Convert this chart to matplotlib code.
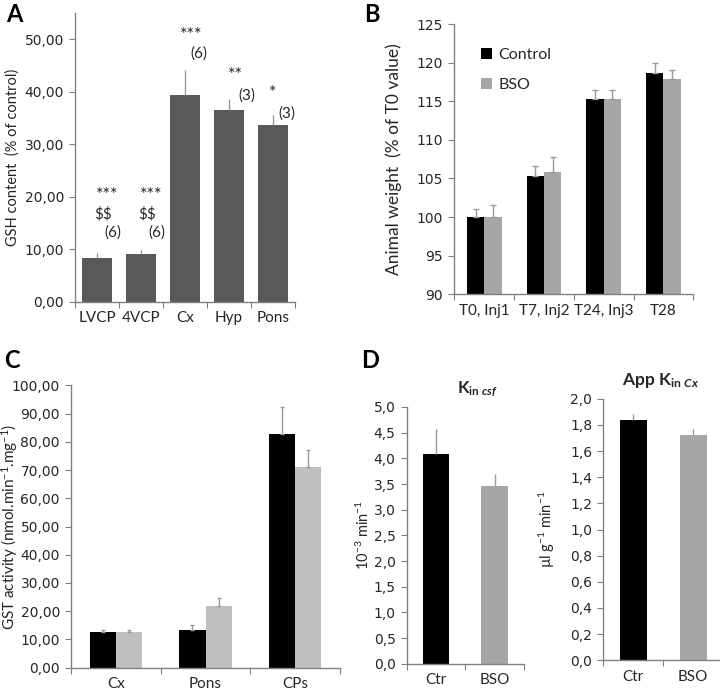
import matplotlib
matplotlib.use("Agg")
import matplotlib.pyplot as plt
import numpy as np

plt.rcParams['font.family'] = ['Lato', 'DejaVu Sans']
plt.rcParams['mathtext.fontset'] = 'custom'
plt.rcParams['mathtext.rm'] = 'Lato'
plt.rcParams['mathtext.it'] = 'Lato:italic'
plt.rcParams['mathtext.bf'] = 'Lato:bold'
plt.rcParams['mathtext.bfit'] = 'Lato:italic:bold'

# ---- Panel A data ----
a_cats = ["LVCP", "4VCP", "Cx", "Hyp", "Pons"]
a_vals = [8.4, 9.1, 39.4, 36.5, 33.7]
a_err = [0.8, 0.8, 4.7, 2.2, 1.9]
a_stars = ["***", "***", "***", "**", "*"]
a_dollars = ["$$", "$$", "", "", ""]
a_n = ["(6)", "(6)", "(6)", "(3)", "(3)"]
a_yticks = [0, 10, 20, 30, 40, 50]

# ---- Panel B data ----
b_cats = ["T0, Inj1", "T7, Inj2", "T24, Inj3", "T28"]
b_ctrl = [100.0, 105.3, 115.3, 118.6]
b_ctrl_err = [1.0, 1.3, 1.2, 1.3]
b_bso = [100.0, 105.8, 115.3, 117.9]
b_bso_err = [1.5, 2.0, 1.1, 1.1]
b_yticks = [90, 95, 100, 105, 110, 115, 120, 125]

# ---- Panel C data ----
c_cats = ["Cx", "Pons", "CPs"]
c_ctrl = [12.5, 13.5, 82.8]
c_ctrl_err = [1.0, 1.5, 9.6]
c_bso = [12.8, 21.7, 70.9]
c_bso_err = [0.6, 2.9, 6.3]
c_yticks = [0, 10, 20, 30, 40, 50, 60, 70, 80, 90, 100]

# ---- Panel D data ----
d_cats = ["Ctr", "BSO"]
d1_vals = [4.08, 3.47]
d1_err = [0.50, 0.22]
d1_yticks = [0, 0.5, 1.0, 1.5, 2.0, 2.5, 3.0, 3.5, 4.0, 4.5, 5.0]
d2_vals = [1.835, 1.725]
d2_err = [0.045, 0.045]
d2_yticks = [0, 0.2, 0.4, 0.6, 0.8, 1.0, 1.2, 1.4, 1.6, 1.8, 2.0]

BLACK = "#000000"
GRAY_B = "#a6a6a6"
GRAY_C = "#bfbfbf"
DARK = "#595959"
AXC = "#808080"
ERRC = "#9a9a9a"
TXT = "#262626"
FS = 10.5
NUM_FAMILY = "DejaVu Sans"
NUM_SIZE = 10


def comma_fmt(decimals):
    def f(v):
        return f"{v:.{decimals}f}".replace(".", ",")
    return f


def style_axis(ax, ncat, yticks, ylim, decimals):
    for s in ["top", "right"]:
        ax.spines[s].set_visible(False)
    for s in ["left", "bottom"]:
        ax.spines[s].set_color(AXC)
        ax.spines[s].set_linewidth(1.0)
    ax.set_xlim(-0.5, ncat - 0.5)
    ax.set_ylim(*ylim)
    ax.set_yticks(yticks)
    fmt = comma_fmt(decimals)
    ax.set_yticklabels([fmt(v) if decimals >= 0 else str(v) for v in yticks],
                       fontdict={"family": NUM_FAMILY, "size": NUM_SIZE})
    ax.tick_params(axis="y", direction="out", length=4, color=AXC,
                   labelcolor=TXT, pad=4)
    ax.set_xticks(np.arange(-0.5, ncat, 1.0))
    ax.set_xticklabels([])
    ax.tick_params(axis="x", which="major", direction="out", length=4,
                   color=AXC)


def cat_labels(ax, labels, fs=FS):
    ax.set_xticks(np.arange(len(labels)), minor=True)
    ax.set_xticklabels(labels, minor=True)
    ax.tick_params(axis="x", which="minor", length=0, labelsize=fs,
                   labelcolor=TXT, pad=7)


W, H = 720, 694
fig = plt.figure(figsize=(7.2, 6.94), dpi=100)


def axes_px(l, r, top, bot):
    return fig.add_axes([l / W, 1 - bot / H, (r - l) / W, (bot - top) / H])


# ---------- Panel A ----------
axA = axes_px(75, 295, 13, 301.7)
xa = np.arange(len(a_cats))
axA.bar(xa, a_vals, width=0.66, color=DARK, zorder=2)
axA.errorbar(xa, a_vals, yerr=[np.zeros(len(a_vals)), a_err], fmt="none",
             ecolor=ERRC, elinewidth=1.0, capsize=0, zorder=3)
style_axis(axA, len(a_cats), a_yticks, (0, 55), 2)
cat_labels(axA, a_cats, 11)
axA.set_ylabel("GSH content  (% of control)", fontsize=FS, color=TXT)
axA.yaxis.set_label_coords(-0.25, 0.5)
# annotations
star_pos = [(0.23, 20.3), (0.23, 20.3), (0.15, 50.8), (0.14, 43.1), (0.0, 39.8)]
dollar_pos = [(0.14, 16.6), (0.14, 16.6), None, None, None]
n_pos = [(0.37, 13.2), (0.37, 13.2), (0.32, 47.2), (0.41, 39.2), (0.32, 35.9)]
for i in range(len(a_cats)):
    dx, y = star_pos[i]
    axA.text(i + dx, y, a_stars[i], ha="center", va="center", fontsize=13,
             color=TXT)
    if a_dollars[i]:
        dx, y = dollar_pos[i]
        axA.text(i + dx, y, a_dollars[i].replace("$", r"\$"), ha="center",
                 va="center", fontsize=11, color=TXT)
    dx, y = n_pos[i]
    axA.text(i + dx, y, a_n[i], ha="center", va="center", fontsize=11,
             color=TXT)

# ---------- Panel B ----------
axB = axes_px(454.3, 693.3, 24, 294.3)
xb = np.arange(len(b_cats))
bw = 0.29
axB.bar(xb - bw / 2, np.array(b_ctrl) - 90, bottom=90, width=bw, color=BLACK,
        label="Control", zorder=2)
axB.bar(xb + bw / 2, np.array(b_bso) - 90, bottom=90, width=bw, color=GRAY_B,
        label="BSO", zorder=2)
axB.errorbar(xb - bw / 2, b_ctrl, yerr=[np.zeros(4), b_ctrl_err], fmt="none",
             ecolor=ERRC, elinewidth=1.0, capsize=2, capthick=1.0, zorder=3)
axB.errorbar(xb + bw / 2, b_bso, yerr=[np.zeros(4), b_bso_err], fmt="none",
             ecolor=ERRC, elinewidth=1.0, capsize=2, capthick=1.0, zorder=3)
style_axis(axB, len(b_cats), b_yticks, (90, 125), -1)
cat_labels(axB, b_cats, 11)
axB.set_ylabel("Animal weight  (% of T0 value)", fontsize=12.5, color=TXT)
axB.yaxis.set_label_coords(-0.219, 0.5)
axB.legend(loc="upper left", bbox_to_anchor=(0.05, 0.965), frameon=False,
           fontsize=11.5, handlelength=0.7, handleheight=0.7, handletextpad=0.4,
           labelspacing=1.0, labelcolor=TXT)

# ---------- Panel C ----------
axC = axes_px(71, 340, 385.3, 667.7)
xc = np.arange(len(c_cats))
cw = 0.29
axC.bar(xc - cw / 2, c_ctrl, width=cw, color=BLACK, zorder=2)
axC.bar(xc + cw / 2, c_bso, width=cw, color=GRAY_C, zorder=2)
axC.errorbar(xc - cw / 2, c_ctrl, yerr=[np.zeros(3), c_ctrl_err], fmt="none",
             ecolor=ERRC, elinewidth=1.0, capsize=1.5, zorder=3)
axC.errorbar(xc + cw / 2, c_bso, yerr=[np.zeros(3), c_bso_err], fmt="none",
             ecolor=ERRC, elinewidth=1.0, capsize=1.5, zorder=3)
style_axis(axC, len(c_cats), c_yticks, (0, 100), 2)
cat_labels(axC, c_cats, 11)
axC.set_ylabel(r"GST activity (nmol.min$^{-1}$.mg$^{-1}$)", fontsize=11,
               color=TXT)
axC.yaxis.set_label_coords(-0.19, 0.5)

# ---------- Panel D left ----------
axD1 = axes_px(406.7, 524, 407, 663.7)
xd = np.arange(2)
axD1.bar(xd, d1_vals, width=0.45, color=[BLACK, GRAY_B], zorder=2)
axD1.errorbar(xd, d1_vals, yerr=[np.zeros(2), d1_err], fmt="none",
              ecolor=ERRC, elinewidth=1.0, capsize=0, zorder=3)
style_axis(axD1, 2, d1_yticks, (0, 5.0), 1)
cat_labels(axD1, d_cats, 11)
axD1.set_ylabel(r"10$^{-3}$ min$^{-1}$", fontsize=FS, color=TXT)
axD1.yaxis.set_label_coords(-0.30, 0.5)
axD1.set_title(r"$\mathbf{K}_{\mathbf{in}\ \mathbfit{csf}}$", fontsize=12,
               color=TXT, pad=10, x=0.6)

# ---------- Panel D right ----------
axD2 = axes_px(603.3, 723, 398.7, 660.3)
axD2.bar(xd, d2_vals, width=0.45, color=[BLACK, GRAY_B], zorder=2)
axD2.errorbar(xd, d2_vals, yerr=[np.zeros(2), d2_err], fmt="none",
              ecolor=ERRC, elinewidth=1.0, capsize=0, zorder=3)
style_axis(axD2, 2, d2_yticks, (0, 2.0), 1)
cat_labels(axD2, d_cats, 11)
axD2.set_ylabel(r"µl g$^{-1}$ min$^{-1}$", fontsize=FS, color=TXT)
axD2.yaxis.set_label_coords(-0.39, 0.5)
axD2.set_title(r"$\mathbf{App\ K}_{\mathbf{in}\ \mathbfit{Cx}}$", fontsize=12.5,
               color=TXT, pad=10, x=0.48)

# Panel letters
for lab, (px, py) in {"A": (14, 14), "B": (372, 14), "C": (12, 360),
                      "D": (370, 360)}.items():
    fig.text(px / W, 1 - py / H, lab, fontsize=17, fontweight="bold",
             ha="center", va="center", color=BLACK)

fig.savefig("out.png", dpi=100)
